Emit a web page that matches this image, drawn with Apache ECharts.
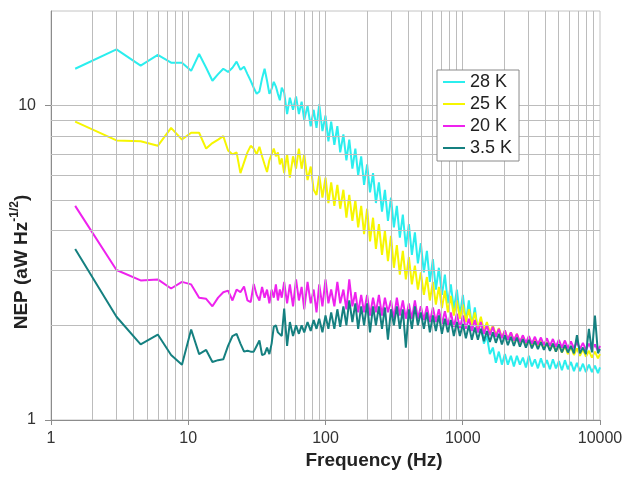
<!DOCTYPE html>
<html><head><meta charset="utf-8">
<script src="https://cdn.jsdelivr.net/npm/echarts@6/dist/echarts.min.js"></script>
<style>html,body{margin:0;padding:0;background:#fff}#c{width:626px;height:479px}</style>
</head><body><div id="c"></div>
<script>
// Frequency (Hz)
const freq = [
  1.5, 3, 4.5, 6, 7.5, 9, 10.5, 12, 13.5, 15,
  16.5, 18, 19.5, 21, 22.5, 24, 25.5, 27, 28.5, 30,
  31.5, 33, 34.5, 36, 37.5, 39, 40.5, 42, 43.5, 45,
  46.5, 48, 50, 52.5, 55, 58, 61, 64, 67, 70,
  74, 78, 82, 86, 90, 95, 100, 105, 110, 116,
  122, 128, 135, 142, 149, 157, 165, 173, 182, 191,
  201, 211, 222, 233, 245, 258, 271, 285, 300, 315,
  331, 348, 366, 385, 405, 426, 448, 471, 495, 521,
  548, 576, 606, 637, 670, 705, 741, 779, 819, 861,
  906, 953, 1002, 1054, 1108, 1165, 1225, 1289, 1355, 1425,
  1499, 1576, 1658, 1743, 1833, 1928, 2028, 2132, 2243, 2358,
  2480, 2608, 2743, 2885, 3034, 3190, 3355, 3528, 3711, 3902,
  4104, 4316, 4539, 4773, 5020, 5279, 5552, 5838, 6140, 6457,
  6790, 7141, 7510, 7898, 8306, 8735, 9186, 9660, 10000
];
// NEP (aW Hz^-1/2)
const nep28K = [
  13.1, 15.1, 13.4, 14.5, 13.7, 13.7, 12.9, 14.6, 13.2, 12.0,
  12.6, 13.1, 12.8, 13.2, 13.8, 13.0, 13.3, 12.6, 12.0, 11.4,
  10.9, 11.1, 12.2, 13.1, 12.0, 10.9, 11.3, 11.9, 11.5, 10.9,
  10.4, 11.4, 11.0, 9.4, 10.6, 9.7, 10.7, 9.4, 10.3, 9.0,
  10.0, 8.6, 9.7, 8.5, 10.1, 8.3, 9.3, 7.7, 8.9, 7.5,
  8.6, 7.1, 8.1, 6.7, 7.8, 6.3, 7.3, 6.0, 6.9, 5.6,
  6.5, 5.3, 6.1, 4.9, 5.7, 4.6, 5.4, 4.3, 5.1, 4.1,
  4.8, 3.8, 4.5, 3.55, 4.2, 3.35, 3.95, 3.15, 3.65, 2.95,
  3.45, 2.75, 3.25, 2.6, 3.05, 2.5, 2.9, 2.35, 2.7, 2.25,
  2.6, 2.15, 2.5, 2.05, 2.4, 1.98, 2.28, 1.9, 2.1, 1.75,
  1.85, 1.62, 1.7, 1.52, 1.65, 1.5, 1.62, 1.5, 1.6, 1.48,
  1.6, 1.5, 1.58, 1.47, 1.6, 1.48, 1.56, 1.46, 1.57, 1.47,
  1.55, 1.45, 1.56, 1.46, 1.54, 1.44, 1.55, 1.45, 1.53, 1.43,
  1.52, 1.43, 1.51, 1.42, 1.5, 1.42, 1.49, 1.41, 1.47
];
const nep25K = [
  8.9, 7.75, 7.7, 7.45, 8.5, 7.8, 8.2, 8.2, 7.3, 7.6,
  7.8, 8.0, 7.2, 7.0, 7.1, 6.1, 6.6, 7.1, 7.45, 7.3,
  7.0, 7.4, 6.9, 6.5, 6.15, 6.7, 7.0, 7.3, 6.9, 7.1,
  6.5, 6.8, 6.1, 7.0, 5.9, 6.9, 6.3, 7.3, 6.3, 7.0,
  5.8, 6.4, 5.4, 5.2, 6.0, 5.1, 5.9, 4.9, 5.7, 4.8,
  5.6, 4.7, 5.4, 4.4, 5.2, 4.3, 5.0, 4.1, 4.8, 3.9,
  4.7, 3.7, 4.4, 3.5, 4.2, 3.35, 4.0, 3.2, 3.85, 3.05,
  3.6, 2.9, 3.45, 2.8, 3.3, 2.7, 3.1, 2.6, 2.95, 2.5,
  2.85, 2.4, 2.75, 2.33, 2.65, 2.27, 2.58, 2.2, 2.48, 2.15,
  2.4, 2.1, 2.33, 2.05, 2.25, 2.0, 2.2, 1.95, 2.13, 1.92,
  2.05, 1.9, 2.0, 1.86, 1.96, 1.83, 1.92, 1.8, 1.9, 1.78,
  1.88, 1.76, 1.85, 1.74, 1.83, 1.72, 1.8, 1.7, 1.79, 1.68,
  1.77, 1.67, 1.75, 1.65, 1.74, 1.64, 1.72, 1.62, 1.71, 1.61,
  1.69, 1.6, 1.68, 1.59, 1.66, 1.58, 1.65, 1.57, 1.62
];
const nep20K = [
  4.8, 3.0, 2.78, 2.8, 2.62, 2.75, 2.7, 2.45, 2.43, 2.3,
  2.45, 2.55, 2.58, 2.4, 2.6, 2.55, 2.66, 2.4, 2.37, 2.71,
  2.5, 2.4, 2.65, 2.45, 2.6, 2.35, 2.6, 2.45, 2.7, 2.4,
  2.6, 2.45, 2.75, 2.35, 2.7, 2.3, 2.8, 2.4, 2.65, 2.25,
  2.75, 2.35, 2.6, 2.2, 2.7, 2.3, 2.8, 2.35, 2.6, 2.3,
  2.75, 2.35, 2.6, 2.25, 2.8, 2.3, 2.55, 2.2, 2.5, 2.2,
  2.5, 2.15, 2.45, 2.2, 2.5, 2.15, 2.45, 2.2, 2.4, 2.1,
  2.45, 2.15, 2.4, 2.1, 2.35, 2.1, 2.4, 2.1, 2.3, 2.08,
  2.3, 2.05, 2.28, 2.05, 2.25, 2.02, 2.22, 2.0, 2.2, 1.98,
  2.18, 1.96, 2.15, 1.95, 2.1, 1.92, 2.08, 1.9, 2.05, 1.88,
  2.0, 1.86, 1.98, 1.84, 1.95, 1.82, 1.93, 1.8, 1.9, 1.79,
  1.88, 1.77, 1.86, 1.76, 1.85, 1.75, 1.84, 1.74, 1.83, 1.73,
  1.82, 1.72, 1.81, 1.71, 1.8, 1.7, 1.79, 1.69, 1.78, 1.69,
  1.77, 1.68, 1.76, 1.67, 1.75, 1.67, 1.74, 1.66, 1.72
];
const nep3p5K = [
  3.5, 2.13, 1.74, 1.87, 1.61, 1.5, 1.94, 1.62, 1.67, 1.53,
  1.55, 1.56, 1.72, 1.85, 1.88, 1.75, 1.65, 1.66, 1.65, 1.65,
  1.72, 1.79, 1.61, 1.62, 1.7, 1.62, 1.75, 1.98, 2.0, 1.9,
  1.91, 1.85, 2.26, 1.72, 2.05, 1.85, 2.0, 1.88, 2.0, 1.9,
  2.05, 1.92, 2.08, 1.95, 2.1, 1.9, 2.15, 1.95, 2.2, 1.95,
  2.25, 1.98, 2.3, 2.0, 2.4, 2.05, 2.35, 1.95, 2.3, 2.0,
  2.35, 1.9, 2.3, 2.0, 2.3, 1.95, 2.28, 1.8, 2.25, 2.0,
  2.3, 1.95, 2.25, 1.7, 2.25, 1.95, 2.3, 2.0, 2.2, 1.95,
  2.2, 1.9, 2.15, 1.92, 2.15, 1.88, 2.1, 1.9, 2.08, 1.85,
  2.05, 1.85, 2.02, 1.82, 2.0, 1.8, 1.97, 1.8, 1.95, 1.78,
  1.92, 1.77, 1.9, 1.76, 1.88, 1.74, 1.86, 1.73, 1.84, 1.72,
  1.83, 1.71, 1.81, 1.7, 1.8, 1.69, 1.78, 1.68, 1.77, 1.67,
  1.76, 1.66, 1.75, 1.65, 1.74, 1.64, 1.73, 1.64, 1.72, 1.63,
  1.86, 1.63, 1.7, 1.62, 1.95, 1.64, 2.15, 1.63, 1.68
];
const seriesNames = ['28 K', '25 K', '20 K', '3.5 K'];
const seriesValues = [nep28K, nep25K, nep20K, nep3p5K];
const seriesColors = ['#2BEEEE', '#F6F600', '#EE22EE', '#158080'];
const xTicks = [1, 10, 100, 1000, 10000];
const yTicks = [1, 10];
const xGrid = [2,3,4,5,6,7,8,9,10,20,30,40,50,60,70,80,90,100,200,300,400,500,600,700,800,900,1000,2000,3000,4000,5000,6000,7000,8000,9000];
const yGrid = [2,3,4,5,6,7,8,9,10];

const FONT = '"Liberation Sans", Arial, sans-serif';
const chart = echarts.init(document.getElementById('c'), null, {renderer: 'canvas'});

const gridLines = [];
xGrid.forEach(v => gridLines.push({xAxis: v}));
yGrid.forEach(v => gridLines.push({yAxis: v}));

const series = [{
  type: 'line', data: [], silent: true, z: 1,
  markLine: {
    silent: true, symbol: ['none', 'none'], animation: false,
    label: {show: false},
    lineStyle: {color: '#bcbcbc', width: 1, type: 'solid'},
    data: gridLines
  }
}];
seriesNames.forEach((name, k) => {
  series.push({
    name: name, type: 'line', showSymbol: false, z: 2 + k,
    lineStyle: {color: seriesColors[k], width: 2},
    itemStyle: {color: seriesColors[k]},
    data: freq.map((f, i) => [f, seriesValues[k][i]])
  });
});

chart.setOption({
  animation: false,
  backgroundColor: '#ffffff',
  grid: {left: 51, top: 11, right: 26, bottom: 59, show: true, borderColor: '#c4c4c4', borderWidth: 1, backgroundColor: '#ffffff'},
  xAxis: {
    type: 'log', logBase: 10, min: 1, max: 10000,
    axisLine: {show: true, lineStyle: {color: '#8c8c8c', width: 1}},
    axisTick: {show: true, length: 5, inside: false, customValues: xTicks, lineStyle: {color: '#8c8c8c'}},
    axisLabel: {customValues: xTicks, formatter: v => String(Math.round(v)), margin: 11, fontSize: 16, color: '#333333', fontFamily: FONT},
    splitLine: {show: false}, minorTick: {show: false}, minorSplitLine: {show: false}
  },
  yAxis: {
    type: 'log', logBase: 10, min: 1, max: 20,
    axisLine: {show: true, lineStyle: {color: '#8c8c8c', width: 1}},
    axisTick: {show: true, length: 6, inside: false, customValues: yTicks, lineStyle: {color: '#8c8c8c'}},
    axisLabel: {customValues: yTicks, formatter: v => String(Math.round(v)), margin: 15, fontSize: 16, color: '#333333', fontFamily: FONT},
    splitLine: {show: false}, minorTick: {show: false}, minorSplitLine: {show: false}
  },
  legend: {
    data: seriesNames, orient: 'vertical', left: 437, top: 70, z: 100,
    icon: 'rect', itemWidth: 22, itemHeight: 2, itemGap: 4, itemTextGap: 2,
    padding: [3, 7, 4, 6],
    backgroundColor: '#ffffff', borderColor: '#8a8a8a', borderWidth: 1,
    textStyle: {fontSize: 18, lineHeight: 18, color: '#222222', fontFamily: FONT}
  },
  graphic: [
    {type: 'text', x: 374, y: 461, silent: true,
     style: {text: 'Frequency (Hz)', font: 'bold 19px ' + FONT, fill: '#222222', align: 'center', verticalAlign: 'middle'}},
    {type: 'text', x: 20, y: 262, rotation: Math.PI / 2, silent: true,
     style: {text: '{b|NEP (aW Hz}{s|-1/2}{b|)}', align: 'center', verticalAlign: 'middle', fill: '#222222',
       rich: {
         b: {fontSize: 19, fontWeight: 'bold', fontFamily: FONT, fill: '#222222', lineHeight: 22, verticalAlign: 'bottom'},
         s: {fontSize: 12, fontWeight: 'bold', fontFamily: FONT, fill: '#222222', lineHeight: 22, verticalAlign: 'top', padding: [0, 0, 8, 0]}
       }}}
  ],
  series: series
});
</script>
</body></html>
